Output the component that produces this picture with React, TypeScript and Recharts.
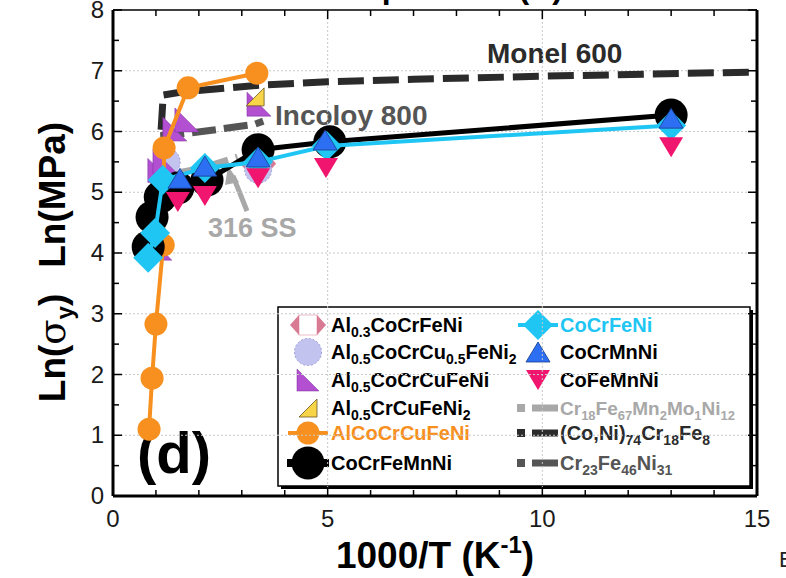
import React from 'react';
import { ScatterChart, Scatter, XAxis, YAxis, ReferenceLine, Customized } from 'recharts';

// chart is lifted 30px so the y = 8 row lands on the page edge
const SHIFT = 30;
const W = 786;
const H = 608;
const PLOT = { left: 113, right: 757, top: 40, bottom: 526 };
const FONT = '"Liberation Sans", Arial, sans-serif';

const X_TICKS = [0, 1, 2, 3, 4, 5, 6, 7, 8, 9, 10, 11, 12, 13, 14, 15];
const X_LABELS = [0, 5, 10, 15];
const Y_TICKS = [0, 0.5, 1, 1.5, 2, 2.5, 3, 3.5, 4, 4.5, 5, 5.5, 6, 6.5, 7, 7.5, 8];
const Y_LABELS = [0, 1, 2, 3, 4, 5, 6, 7, 8];
const GRID_Y = [1, 2, 3, 4, 5, 6, 7];
const GRID_X = [5, 10];

// reference alloys (dashed)
const monelX = [1.12, 1.17, 1.6, 3.4, 5, 7, 10, 15];
const monelY = [6.03, 6.6, 6.65, 6.76, 6.82, 6.86, 6.91, 6.98];
const incoloyX = [1.1, 1.6, 2.3, 3.3, 3.5];
const incoloyY = [5.93, 5.96, 6.02, 6.12, 6.17];
const ss316X = [1.6, 2.1, 2.9];
const ss316Y = [5.33, 5.4, 5.58];

// high-entropy alloys
const al03X = [3.38];
const al03Y = [5.47];
const al05Cu05X = [1.25, 3.38];
const al05Cu05Y = [5.5, 5.37];
const al05CuX = [1.09, 1.09, 1.21, 1.44, 1.72, 3.4];
const al05CuY = [4.08, 5.36, 5.51, 6.04, 6.19, 6.45];
const al05CrX = [3.31];
const al05CrY = [6.57];
const alCoX = [0.84, 0.91, 1.0, 1.17, 1.19, 1.75, 3.35];
const alCoY = [1.1, 1.94, 2.83, 4.13, 5.73, 6.72, 6.96];
const cantorX = [0.82, 0.91, 1.1, 1.51, 2.19, 3.38, 5.05, 13];
const cantorY = [4.1, 4.59, 4.92, 5.07, 5.2, 5.7, 5.83, 6.27];
const coCrFeNiX = [0.82, 0.98, 1.16, 2.14, 3.38, 4.98, 13];
const coCrFeNiY = [3.92, 4.33, 5.2, 5.4, 5.5, 5.76, 6.1];
const coCrMnNiX = [1.56, 2.14, 3.38, 4.94, 13];
const coCrMnNiY = [5.23, 5.43, 5.58, 5.86, 6.22];
const coFeMnNiX = [1.51, 2.14, 3.38, 4.96, 13];
const coFeMnNiY = [4.84, 4.94, 5.23, 5.4, 5.74];

const pts = (xs: number[], ys: number[]) => xs.map((x, i) => ({ x, y: ys[i] }));

const C = {
  hex: '#d87a92',
  lavender: '#c3c3f0',
  purple: '#b34fd1',
  yellow: '#f8d548',
  orange: '#f7901e',
  black: '#000000',
  cyan: '#1fc6f4',
  blue: '#2d6ff2',
  pink: '#f0156e',
  monel: '#2b2b2b',
  incoloy: '#555555',
  ss: '#a8a8a8',
};

// marker drawing
const hexMark = (cx: number, cy: number) => (
  <g>
    <polygon
      points={`${cx - 18},${cy} ${cx - 9},${cy - 10} ${cx + 9},${cy - 10} ${cx + 18},${cy} ${cx + 9},${cy + 10} ${cx - 9},${cy + 10}`}
      fill={C.hex}
    />
    <rect x={cx - 9} y={cy - 10} width={18} height={20} fill="#fff" stroke={C.hex} strokeWidth={0.5} />
  </g>
);
const lavenderMark = (cx: number, cy: number) => (
  <circle cx={cx} cy={cy} r={13.5} fill={C.lavender} stroke="#9d9dd6" strokeWidth={1} strokeDasharray="2 2" />
);
const purpleMark = (cx: number, cy: number, s = 12) => (
  <polygon points={`${cx - s},${cy - s} ${cx - s},${cy + s} ${cx + s},${cy + s}`} fill={C.purple} stroke="#7a2f9a" strokeWidth={0.5} />
);
const yellowMark = (cx: number, cy: number) => (
  <polygon points={`${cx + 9},${cy - 9} ${cx + 9},${cy + 9} ${cx - 9},${cy + 9}`} fill={C.yellow} stroke="#6b5520" strokeWidth={0.8} />
);
const orangeMark = (cx: number, cy: number) => <circle cx={cx} cy={cy} r={11.5} fill={C.orange} />;
const blackMark = (cx: number, cy: number) => <circle cx={cx} cy={cy} r={16.5} fill={C.black} />;
const cyanMark = (cx: number, cy: number) => (
  <polygon points={`${cx},${cy - 15} ${cx + 15},${cy} ${cx},${cy + 15} ${cx - 15},${cy}`} fill={C.cyan} />
);
const blueMark = (cx: number, cy: number) => (
  <polygon points={`${cx},${cy - 10} ${cx + 12},${cy + 10} ${cx - 12},${cy + 10}`} fill={C.blue} stroke="#163a8a" strokeWidth={0.8} />
);
const pinkMark = (cx: number, cy: number) => (
  <polygon points={`${cx - 12},${cy - 10} ${cx + 12},${cy - 10} ${cx},${cy + 10}`} fill={C.pink} />
);

const shapeOf = (draw: (cx: number, cy: number) => React.ReactElement) => (p: any) => draw(p.cx, p.cy);
const noMark = () => <g />;

const XTick = (props: any) => {
  const { x, payload } = props;
  const v = payload.value;
  const major = X_LABELS.includes(v);
  const len = major ? 9 : 6;
  return (
    <g>
      <line x1={x} x2={x} y1={PLOT.bottom} y2={PLOT.bottom - len} stroke="#000" strokeWidth={1.5} />
      <line x1={x} x2={x} y1={PLOT.top} y2={PLOT.top + len} stroke="#000" strokeWidth={1.5} />
      {major && (
        <text x={x} y={PLOT.bottom + 31} textAnchor="middle" fontSize={24} fontFamily={FONT} fill="#1a1a1a">
          {v}
        </text>
      )}
    </g>
  );
};

const YTick = (props: any) => {
  const { y, payload } = props;
  const v = payload.value;
  const major = Y_LABELS.includes(v);
  const len = major ? 9 : 6;
  return (
    <g>
      <line x1={PLOT.left} x2={PLOT.left + len} y1={y} y2={y} stroke="#000" strokeWidth={1.5} />
      <line x1={PLOT.right} x2={PLOT.right - len} y1={y} y2={y} stroke="#000" strokeWidth={1.5} />
      {major && (
        <text x={104} y={y + 8} textAnchor="end" fontSize={24} fontFamily={FONT} fill="#1a1a1a">
          {v}
        </text>
      )}
    </g>
  );
};

// "Al|0.3|CoCrFeNi" -> odd parts are subscripts
const Formula = ({ x, y, text, color, size = 20 }: { x: number; y: number; text: string; color: string; size?: number }) => {
  const parts = text.split('|');
  const sub = Math.round(size * 0.7);
  return (
    <text x={x} y={y} fontSize={size} fontWeight="bold" fontFamily={FONT} fill={color}>
      {parts.map((p, i) =>
        i % 2 === 1 ? (
          <tspan key={i} fontSize={sub} dy={5}>{p}</tspan>
        ) : (
          <tspan key={i} dy={i === 0 ? 0 : -5}>{p}</tspan>
        ),
      )}
    </text>
  );
};

const LEG_ROWS = [355, 382, 410, 438, 463, 493];
const COL1 = 308;
const COL2 = 538;

const LegendBox = () => {
  const t1 = COL1 + 23;
  const t2 = COL2 + 22;
  const gLine = (cy: number, color: string) => (
    <g>
      <rect x={517} y={cy - 4} width={8} height={8} fill={color} />
      <rect x={532} y={cy - 3.5} width={26} height={7} fill={color} />
    </g>
  );
  return (
    <g>
      <rect x={281} y={340} width={472} height={179} fill="#000" />
      <rect x={278} y={337} width={472} height={179} fill="#fff" stroke="#000" strokeWidth={1.5} />
      {hexMark(COL1, LEG_ROWS[0])}
      <Formula x={t1} y={LEG_ROWS[0] + 7} text="Al|0.3|CoCrFeNi" color="#000" />
      {lavenderMark(COL1, LEG_ROWS[1])}
      <Formula x={t1} y={LEG_ROWS[1] + 7} text="Al|0.5|CoCrCu|0.5|FeNi|2" color="#000" />
      {purpleMark(COL1, LEG_ROWS[2], 11)}
      <Formula x={t1} y={LEG_ROWS[2] + 7} text="Al|0.5|CoCrCuFeNi" color="#000" />
      {yellowMark(COL1, LEG_ROWS[3])}
      <Formula x={t1} y={LEG_ROWS[3] + 7} text="Al|0.5|CrCuFeNi|2" color="#000" />
      <line x1={288} x2={328} y1={LEG_ROWS[4]} y2={LEG_ROWS[4]} stroke={C.orange} strokeWidth={4} />
      {orangeMark(COL1, LEG_ROWS[4])}
      <Formula x={t1} y={LEG_ROWS[4] + 7} text="AlCoCrCuFeNi" color={C.orange} />
      <line x1={287} x2={329} y1={LEG_ROWS[5]} y2={LEG_ROWS[5]} stroke="#000" strokeWidth={8} />
      {blackMark(COL1, LEG_ROWS[5])}
      <Formula x={t1} y={LEG_ROWS[5] + 7} text="CoCrFeMnNi" color="#000" />

      <line x1={518} x2={558} y1={LEG_ROWS[0]} y2={LEG_ROWS[0]} stroke={C.cyan} strokeWidth={4} />
      {cyanMark(COL2, LEG_ROWS[0])}
      <Formula x={t2} y={LEG_ROWS[0] + 7} text="CoCrFeNi" color={C.cyan} />
      {blueMark(COL2, LEG_ROWS[1])}
      <Formula x={t2} y={LEG_ROWS[1] + 7} text="CoCrMnNi" color="#000" />
      {pinkMark(COL2, LEG_ROWS[2])}
      <Formula x={t2} y={LEG_ROWS[2] + 7} text="CoFeMnNi" color="#000" />
      {gLine(LEG_ROWS[3], C.ss)}
      <Formula x={t2} y={LEG_ROWS[3] + 7} text="Cr|18|Fe|67|Mn|2|Mo|1|Ni|12" color={C.ss} size={19} />
      {gLine(LEG_ROWS[4], C.monel)}
      <Formula x={t2} y={LEG_ROWS[4] + 7} text="(Co,Ni)|74|Cr|18|Fe|8" color={C.monel} />
      {gLine(LEG_ROWS[5], C.incoloy)}
      <Formula x={t2} y={LEG_ROWS[5] + 7} text="Cr|23|Fe|46|Ni|31" color={C.incoloy} />
    </g>
  );
};

const Annotations = () => (
  <g fontFamily={FONT} fontWeight="bold">
    <text x={563} y={28} textAnchor="end" fontSize={32} fill="#000">Temperature (K)</text>
    <text x={487} y={93} fontSize={28} fill={C.monel}>Monel 600</text>
    <text x={275} y={155} fontSize={28} fill={C.incoloy}>Incoloy 800</text>
    <text x={208} y={267} fontSize={27} fill={C.ss}>316 SS</text>
    <line x1={247} y1={241} x2={233} y2={206} stroke={C.ss} strokeWidth={5} />
    <polygon points="228,196 239,212 225,215" fill={C.ss} />
    <text x={137} y={503} fontSize={58} fill="#000">(d)</text>
    <text x={779} y={597} fontSize={22} fontWeight="normal" fill="#222">B</text>
    <text x={435} y={598} textAnchor="middle" fontSize={37} fill="#000">
      1000/T (K<tspan fontSize={24} dy={-15}>-1</tspan><tspan dy={15}>)</tspan>
    </text>
    <g transform="rotate(-90 52 292)">
      <text x={52} y={305} textAnchor="middle" fontSize={37} fill="#000">
        Ln(<tspan fontFamily='"DejaVu Serif", serif' fontWeight="normal">σ</tspan>
        <tspan fontSize={24} dy={8}>y</tspan>
        <tspan dy={-8}>)</tspan>
        <tspan dx={26}>Ln(MPa)</tspan>
      </text>
    </g>
    <LegendBox />
  </g>
);

export default function App() {
  return (
    <div style={{ position: 'absolute', left: 0, top: -SHIFT, width: W, height: H, background: '#fff' }}>
      <ScatterChart width={W} height={H} margin={{ top: PLOT.top, right: W - PLOT.right, bottom: 0, left: 0 }}>
        <XAxis
          type="number"
          dataKey="x"
          domain={[0, 15]}
          ticks={X_TICKS}
          interval={0}
          allowDataOverflow
          height={H - PLOT.bottom}
          axisLine={{ stroke: '#000', strokeWidth: 3 }}
          tickLine={false}
          tick={<XTick />}
        />
        <YAxis
          type="number"
          dataKey="y"
          domain={[0, 8]}
          ticks={Y_TICKS}
          interval={0}
          allowDataOverflow
          width={PLOT.left}
          axisLine={{ stroke: '#000', strokeWidth: 3 }}
          tickLine={false}
          tick={<YTick />}
        />
        {GRID_Y.map((v) => (
          <ReferenceLine key={`gy${v}`} y={v} stroke="#c8c8c8" strokeDasharray="2 2" />
        ))}
        {GRID_X.map((v) => (
          <ReferenceLine key={`gx${v}`} x={v} stroke="#c8c8c8" strokeDasharray="2 2" />
        ))}

        <Scatter data={pts(monelX, monelY)} shape={noMark} line={{ stroke: C.monel, strokeWidth: 7, strokeDasharray: '26 9' }} lineType="joint" isAnimationActive={false} />
        <Scatter data={pts(incoloyX, incoloyY)} shape={noMark} line={{ stroke: C.incoloy, strokeWidth: 7, strokeDasharray: '24 8' }} lineType="joint" isAnimationActive={false} />
        <Scatter data={pts(ss316X, ss316Y)} shape={noMark} line={{ stroke: C.ss, strokeWidth: 7, strokeDasharray: '20 8' }} lineType="joint" isAnimationActive={false} />

        <Scatter data={pts(al03X, al03Y)} shape={shapeOf(hexMark)} isAnimationActive={false} />
        <Scatter data={pts(al05Cu05X, al05Cu05Y)} shape={shapeOf(lavenderMark)} isAnimationActive={false} />
        <Scatter data={pts(al05CuX, al05CuY)} shape={shapeOf((x, y) => purpleMark(x, y, 12))} isAnimationActive={false} />
        <Scatter data={pts(al05CrX, al05CrY)} shape={shapeOf(yellowMark)} isAnimationActive={false} />
        <Scatter data={pts(alCoX, alCoY)} shape={shapeOf(orangeMark)} line={{ stroke: C.orange, strokeWidth: 4 }} lineType="joint" isAnimationActive={false} />
        <Scatter data={pts(cantorX, cantorY)} shape={shapeOf(blackMark)} line={{ stroke: C.black, strokeWidth: 5 }} lineType="joint" isAnimationActive={false} />
        <Scatter data={pts(coCrFeNiX, coCrFeNiY)} shape={shapeOf(cyanMark)} line={{ stroke: C.cyan, strokeWidth: 4 }} lineType="joint" isAnimationActive={false} />
        <Scatter data={pts(coCrMnNiX, coCrMnNiY)} shape={shapeOf(blueMark)} isAnimationActive={false} />
        <Scatter data={pts(coFeMnNiX, coFeMnNiY)} shape={shapeOf(pinkMark)} isAnimationActive={false} />

        <ReferenceLine x={15} stroke="#000" strokeWidth={3} />
        <ReferenceLine y={8} stroke="#000" strokeWidth={1.5} />
        <Customized component={Annotations} />
      </ScatterChart>
    </div>
  );
}
